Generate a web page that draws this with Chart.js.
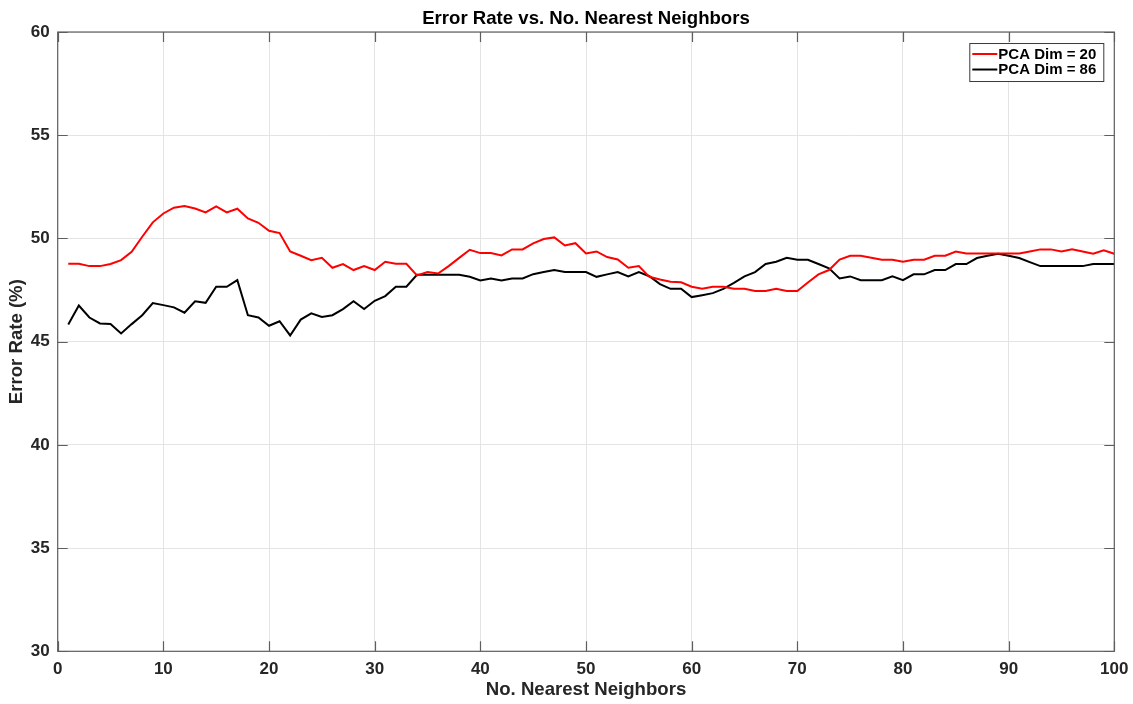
<!DOCTYPE html>
<html>
<head>
<meta charset="utf-8">
<script src="https://cdn.jsdelivr.net/npm/chart.js@4/dist/chart.umd.min.js"></script>
<style>
  html, body { margin: 0; padding: 0; background: #ffffff; }
  #wrap { width: 1133px; height: 704px; position: relative; }
</style>
</head>
<body>
<div id="wrap"><canvas id="chart" width="1133" height="704"></canvas></div>
<script>
// Number of nearest neighbours (k) evaluated
const neighbors = [
  1, 2, 3, 4, 5, 6, 7, 8, 9, 10,
  11, 12, 13, 14, 15, 16, 17, 18, 19, 20,
  21, 22, 23, 24, 25, 26, 27, 28, 29, 30,
  31, 32, 33, 34, 35, 36, 37, 38, 39, 40,
  41, 42, 43, 44, 45, 46, 47, 48, 49, 50,
  51, 52, 53, 54, 55, 56, 57, 58, 59, 60,
  61, 62, 63, 64, 65, 66, 67, 68, 69, 70,
  71, 72, 73, 74, 75, 76, 77, 78, 79, 80,
  81, 82, 83, 84, 85, 86, 87, 88, 89, 90,
  91, 92, 93, 94, 95, 96, 97, 98, 99, 100
];

// Error rate (%) with PCA reduced to 20 dimensions
const errPca20 = [
  48.77, 48.77, 48.66, 48.66, 48.76, 48.95, 49.35, 50.08, 50.78, 51.21,
  51.49, 51.57, 51.45, 51.26, 51.55, 51.26, 51.44, 50.97, 50.76, 50.37,
  50.26, 49.37, 49.16, 48.95, 49.06, 48.58, 48.76, 48.47, 48.66, 48.47,
  48.87, 48.77, 48.77, 48.21, 48.37, 48.30, 48.66, 49.06, 49.45, 49.29,
  49.29, 49.18, 49.47, 49.47, 49.76, 49.97, 50.05, 49.66, 49.77, 49.27,
  49.37, 49.10, 48.98, 48.58, 48.66, 48.14, 48.01, 47.90, 47.88, 47.66,
  47.56, 47.66, 47.66, 47.56, 47.56, 47.45, 47.45, 47.56, 47.45, 47.45,
  47.87, 48.26, 48.47, 48.98, 49.16, 49.16, 49.06, 48.97, 48.97, 48.87,
  48.97, 48.97, 49.16, 49.16, 49.37, 49.27, 49.27, 49.27, 49.27, 49.27,
  49.27, 49.37, 49.47, 49.47, 49.37, 49.47, 49.37, 49.26, 49.43, 49.26
];

// Error rate (%) with PCA reduced to 86 dimensions
const errPca86 = [
  45.83, 46.75, 46.17, 45.88, 45.86, 45.40, 45.85, 46.28, 46.87, 46.77,
  46.66, 46.40, 46.96, 46.88, 47.66, 47.66, 47.98, 46.28, 46.17, 45.77,
  45.99, 45.30, 46.07, 46.37, 46.20, 46.28, 46.58, 46.96, 46.58, 46.98,
  47.21, 47.66, 47.66, 48.24, 48.24, 48.24, 48.24, 48.24, 48.14, 47.96,
  48.06, 47.96, 48.06, 48.06, 48.27, 48.37, 48.47, 48.37, 48.37, 48.37,
  48.14, 48.26, 48.37, 48.16, 48.37, 48.17, 47.79, 47.56, 47.56, 47.16,
  47.25, 47.35, 47.56, 47.85, 48.16, 48.37, 48.76, 48.87, 49.06, 48.97,
  48.97, 48.76, 48.55, 48.06, 48.16, 47.98, 47.98, 47.98, 48.16, 47.98,
  48.26, 48.26, 48.47, 48.47, 48.76, 48.76, 49.05, 49.16, 49.26, 49.16,
  49.05, 48.85, 48.66, 48.66, 48.66, 48.66, 48.66, 48.76, 48.76, 48.76
];

const seriesLabels = ['PCA Dim = 20', 'PCA Dim = 86'];
const xTickValues = [0, 10, 20, 30, 40, 50, 60, 70, 80, 90, 100];
const yTickValues = [30, 35, 40, 45, 50, 55, 60];

const FONT = "'Liberation Sans', Arial, Helvetica, sans-serif";
const TEXT = '#262626';
const AXIS = '#5e5e5e';
const GRID = '#e4e4e4';

const toPoints = (ys) => ys.map((y, i) => ({ x: neighbors[i], y }));

// Box around the axes with inward ticks on all four sides
const axesBox = {
  id: 'axesBox',
  afterDatasetsDraw(chart) {
    const { ctx, chartArea: a, scales: { x, y } } = chart;
    const len = 10;
    ctx.save();
    ctx.strokeStyle = AXIS;
    ctx.lineWidth = 1.2;
    ctx.beginPath();
    xTickValues.forEach(v => {
      const p = Math.round(x.getPixelForValue(v)) + 0.5;
      ctx.moveTo(p, a.bottom); ctx.lineTo(p, a.bottom - len);
      ctx.moveTo(p, a.top); ctx.lineTo(p, a.top + len);
    });
    yTickValues.forEach(v => {
      const p = Math.round(y.getPixelForValue(v)) + 0.5;
      ctx.moveTo(a.left, p); ctx.lineTo(a.left + len, p);
      ctx.moveTo(a.right, p); ctx.lineTo(a.right - len, p);
    });
    ctx.stroke();
    ctx.strokeRect(a.left, a.top, a.right - a.left, a.bottom - a.top);
    ctx.restore();
  }
};

// Legend box in the upper-right corner of the axes
const boxLegend = {
  id: 'boxLegend',
  afterDraw(chart) {
    const { ctx, chartArea: a } = chart;
    const sets = chart.data.datasets;
    const w = 134, rowH = 15.5;
    const right = a.right - 11, top = a.top + 11;
    const left = right - w;
    const h = 38;
    ctx.save();
    ctx.fillStyle = '#ffffff';
    ctx.fillRect(left, top, w, h);
    ctx.strokeStyle = '#3a3a3a';
    ctx.lineWidth = 1;
    ctx.strokeRect(left + 0.5, top + 0.5, w, h);
    ctx.font = 'bold 15px ' + FONT;
    ctx.textBaseline = 'middle';
    ctx.textAlign = 'left';
    sets.forEach((ds, i) => {
      const cy = top + 11 + i * rowH;
      ctx.strokeStyle = ds.borderColor;
      ctx.lineWidth = 2;
      ctx.beginPath();
      ctx.moveTo(left + 3, cy);
      ctx.lineTo(left + 28, cy);
      ctx.stroke();
      ctx.fillStyle = '#000000';
      ctx.fillText(ds.label, left + 29, cy + 0.5);
    });
    ctx.restore();
  }
};

new Chart(document.getElementById('chart'), {
  type: 'line',
  data: {
    datasets: [
      {
        label: seriesLabels[0],
        data: toPoints(errPca20),
        borderColor: '#ff0000',
        borderWidth: 2,
        pointRadius: 0,
        tension: 0,
        fill: false
      },
      {
        label: seriesLabels[1],
        data: toPoints(errPca86),
        borderColor: '#000000',
        borderWidth: 2,
        pointRadius: 0,
        tension: 0,
        fill: false
      }
    ]
  },
  options: {
    responsive: false,
    animation: false,
    events: [],
    layout: { padding: { left: 0, right: 18.7, top: 0, bottom: 0 } },
    plugins: {
      legend: { display: false },
      tooltip: { enabled: false },
      title: {
        display: true,
        fullSize: false,
        text: 'Error Rate vs. No. Nearest Neighbors',
        color: '#000000',
        font: { family: FONT, size: 18.6, weight: 'bold', lineHeight: 1.2 },
        padding: { top: 7.6, bottom: 2.1 }
      }
    },
    scales: {
      x: {
        type: 'linear',
        min: 0,
        max: 100,
        afterBuildTicks(scale) { scale.ticks = xTickValues.map(v => ({ value: v })); },
        afterFit(scale) {
          scale.height = 52.7;
          scale.paddingLeft = 0;
          scale.paddingRight = 0;
        },
        grid: { color: GRID, lineWidth: 1, drawTicks: false },
        border: { display: false },
        ticks: {
          color: TEXT,
          padding: 8,
          maxRotation: 0,
          font: { family: FONT, size: 17, weight: 'bold' }
        },
        title: {
          display: true,
          text: 'No. Nearest Neighbors',
          color: TEXT,
          font: { family: FONT, size: 18.6, weight: 'bold', lineHeight: 1.2 },
          padding: { top: 0, bottom: 3 }
        }
      },
      y: {
        type: 'linear',
        min: 30,
        max: 60,
        afterBuildTicks(scale) { scale.ticks = yTickValues.map(v => ({ value: v })); },
        afterFit(scale) {
          scale.width = 57.7;
          scale.paddingTop = 0;
          scale.paddingBottom = 0;
        },
        grid: { color: GRID, lineWidth: 1, drawTicks: false },
        border: { display: false },
        ticks: {
          color: TEXT,
          padding: 8,
          font: { family: FONT, size: 17, weight: 'bold' }
        },
        title: {
          display: true,
          text: 'Error Rate (%)',
          color: TEXT,
          font: { family: FONT, size: 18.6, weight: 'bold', lineHeight: 1.2 },
          padding: { top: 6.2, bottom: 0 }
        }
      }
    }
  },
  plugins: [axesBox, boxLegend]
});
</script>
</body>
</html>
